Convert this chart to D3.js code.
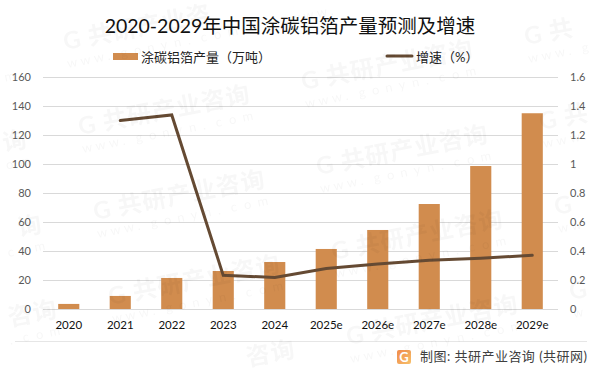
<!DOCTYPE html>
<html>
<head>
<meta charset="utf-8">
<script src="https://cdn.jsdelivr.net/npm/d3@7"></script>
<style>
  html, body { margin: 0; padding: 0; background: #fff; }
  svg { display: block; }
  text { font-family: Lato, "Noto Sans CJK SC", sans-serif; }
</style>
</head>
<body>
<div id="d3-container"></div>
<script>
// -------------------- Data --------------------
const years = ["2020", "2021", "2022", "2023", "2024", "2025e", "2026e", "2027e", "2028e", "2029e"];
const output = [3.5, 9, 21.4, 26.2, 32.4, 41.4, 54.5, 72.4, 98.6, 135];
const growth = [null, 1.30, 1.338, 0.232, 0.218, 0.28, 0.31, 0.336, 0.35, 0.37];
const leftTicks = [0, 20, 40, 60, 80, 100, 120, 140, 160];
const rightTicks = [0, 0.2, 0.4, 0.6, 0.8, 1, 1.2, 1.4, 1.6];

const titleText = "2020-2029年中国涂碳铝箔产量预测及增速";
const barLabel = "涂碳铝箔产量（万吨）";
const lineLabel = "增速（%）";
const sourceText = "制图: 共研产业咨询 (共研网)";
const wmName = Array.from("G共研产业咨询");
const wmSite = Array.from("www.gonyn.com");

// -------------------- Constants --------------------
const svgWidth = 601, svgHeight = 373;
const margin = {top: 77, right: 43, bottom: 64, left: 43};
const innerWidth = svgWidth - margin.left - margin.right;
const innerHeight = svgHeight - margin.top - margin.bottom;
const barColor = "#d18c4e", lineColor = "#654a33", gridColor = "#d9d9d9";

const svg = d3.select("#d3-container").append("svg")
  .attr("width", svgWidth)
  .attr("height", svgHeight);

const g = svg.append("g")
  .attr("transform", `translate(${margin.left}, ${margin.top})`);

// -------------------- Scales --------------------
const xScale = d3.scaleBand().domain(years).range([0, innerWidth]).paddingInner(0.59).paddingOuter(0.295);
const yLeft = d3.scaleLinear().domain([0, 160]).range([innerHeight, 0]);
const yRight = d3.scaleLinear().domain([0, 1.6]).range([innerHeight, 0]);

// -------------------- Axes --------------------
const leftAxis = g.append("g")
  .call(d3.axisLeft(yLeft).tickValues(leftTicks).tickSize(-innerWidth).tickPadding(12));
leftAxis.select(".domain").remove();
leftAxis.selectAll("line").attr("stroke", gridColor).attr("stroke-width", 1);
leftAxis.selectAll("text").attr("fill", "#595959").style("font-size", "11px");

const rightAxis = g.append("g")
  .attr("transform", `translate(${innerWidth}, 0)`)
  .call(d3.axisRight(yRight).tickValues(rightTicks).tickSize(0).tickPadding(12).tickFormat(d => d));
rightAxis.select(".domain").remove();
rightAxis.selectAll("text").attr("fill", "#595959").style("font-size", "11px");

const bottomAxis = g.append("g")
  .attr("transform", `translate(0, ${innerHeight})`)
  .call(d3.axisBottom(xScale).tickSize(0).tickPadding(12));
bottomAxis.select(".domain").remove();
bottomAxis.selectAll("text").attr("fill", "#111").style("font-size", "11.5px");

// -------------------- Bars and line --------------------
g.selectAll(".bar")
  .data(years)
  .join("rect")
  .attr("class", "bar")
  .attr("x", d => xScale(d))
  .attr("width", xScale.bandwidth())
  .attr("y", (d, i) => yLeft(output[i]))
  .attr("height", (d, i) => innerHeight - yLeft(output[i]))
  .attr("fill", barColor);

const line = d3.line()
  .defined(d => d !== null)
  .x((d, i) => xScale(years[i]) + xScale.bandwidth() / 2)
  .y(d => yRight(d));

g.append("path")
  .attr("d", line(growth))
  .attr("fill", "none")
  .attr("stroke", lineColor)
  .attr("stroke-width", 3)
  .attr("stroke-linecap", "round")
  .attr("stroke-linejoin", "miter");

// -------------------- Title and legend --------------------
svg.append("text")
  .attr("x", 290).attr("y", 33)
  .attr("text-anchor", "middle")
  .style("font-size", "19.5px")
  .attr("fill", "#111")
  .text(titleText);

svg.append("rect").attr("x", 113).attr("y", 53).attr("width", 25).attr("height", 7).attr("fill", barColor);
svg.append("text").attr("x", 141).attr("y", 62).attr("fill", "#222").style("font-size", "13px").text(barLabel);

svg.append("line").attr("x1", 387).attr("x2", 412).attr("y1", 56).attr("y2", 56)
  .attr("stroke", lineColor).attr("stroke-width", 3).attr("stroke-linecap", "round");
svg.append("text").attr("x", 416).attr("y", 62).attr("fill", "#222").style("font-size", "13px").text(lineLabel);

// -------------------- Footer --------------------
svg.append("line").attr("x1", 15).attr("x2", 587).attr("y1", 341.5).attr("y2", 341.5)
  .attr("stroke", "#e6e6e6");

const grad = svg.append("defs").append("linearGradient")
  .attr("id", "logoGrad").attr("x1", 0).attr("y1", 0).attr("x2", 1).attr("y2", 1);
grad.append("stop").attr("offset", 0).attr("stop-color", "#f08a4b");
grad.append("stop").attr("offset", 1).attr("stop-color", "#f7c06a");

svg.append("rect").attr("x", 397).attr("y", 350).attr("width", 14).attr("height", 14).attr("rx", 2).attr("fill", "url(#logoGrad)");
svg.append("text").attr("x", 404).attr("y", 361.5).attr("text-anchor", "middle")
  .attr("fill", "#fff").style("font-size", "13px").style("font-weight", "bold").text("G");

svg.append("text").attr("x", 420).attr("y", 361)
  .attr("textLength", 167)
  .attr("fill", "#404040")
  .style("font-size", "13px")
  .text(sourceText);

// -------------------- Watermark --------------------
// one text per glyph, glyphs that would fall off the canvas are skipped
const wm = svg.append("g").attr("opacity", 0.035);
const angle = -11 * Math.PI / 180;

function wmRow(chars, startX, startY, step, size, weight) {
  chars.forEach((c, k) => {
    const x = startX + k * step * Math.cos(angle);
    const y = startY + k * step * Math.sin(angle);
    if (x < 3 || x > svgWidth - size - 3 || y < size + 2 || y > svgHeight - 3) return;
    wm.append("text")
      .attr("x", x).attr("y", y)
      .attr("transform", `rotate(-11 ${x} ${y})`)
      .style("font-size", size + "px")
      .style("font-weight", weight)
      .text(c);
  });
}

for (let i = -2; i < 5; i++) {
  for (let j = -1; j < 5; j++) {
    const px = 65 + i * 15 + j * 223;
    const py = 50 + i * 85 - j * 45;
    wmRow(wmName, px, py, 25, 24, "bold");
    wmRow(wmSite, px + 3, py + 18, 13.6, 13, "normal");
  }
}
</script>
</body>
</html>
